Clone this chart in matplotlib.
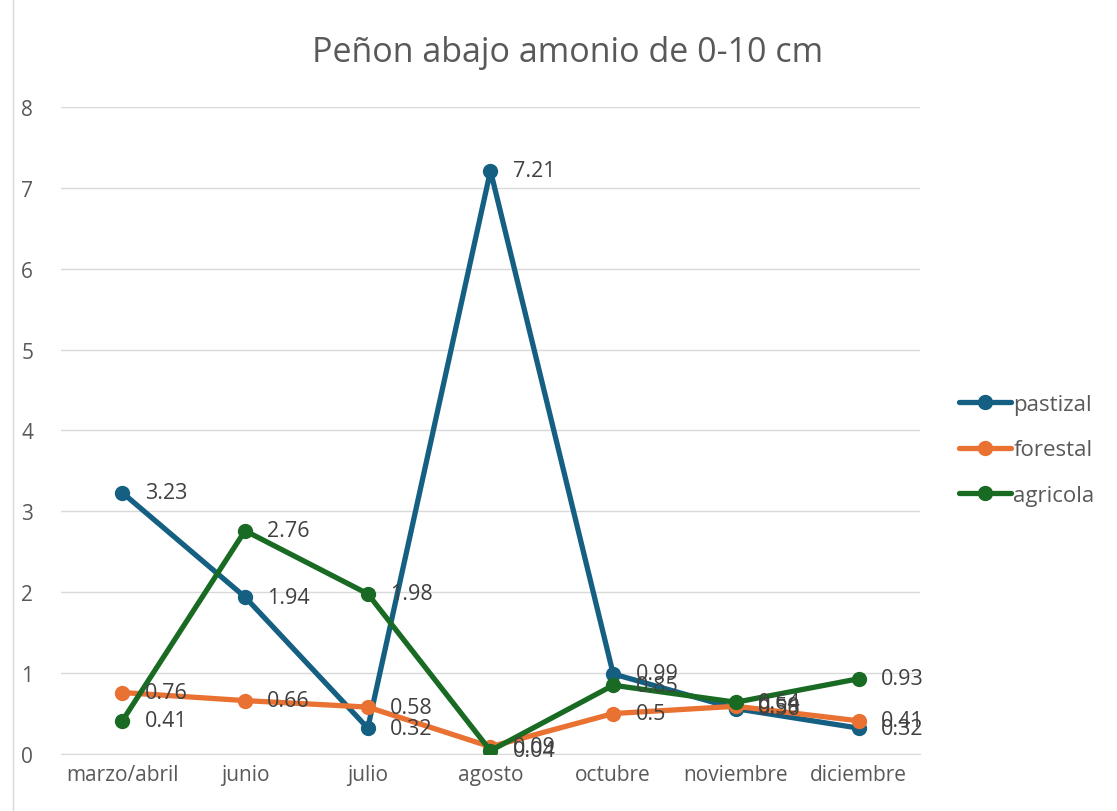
import numpy as np
import matplotlib.pyplot as plt
from matplotlib.patches import Rectangle

plt.rcParams['font.family'] = ['Open Sans', 'DejaVu Sans']

# datos
meses = ["marzo/abril", "junio", "julio", "agosto", "octubre", "noviembre", "diciembre"]
pastizal = [3.23, 1.94, 0.32, 7.21, 0.99, 0.56, 0.32]
forestal = [0.76, 0.66, 0.58, 0.09, 0.5, 0.59, 0.41]
agricola = [0.41, 2.76, 1.98, 0.04, 0.85, 0.64, 0.93]

series = [("pastizal", pastizal, "#156082"),
          ("forestal", forestal, "#E97132"),
          ("agricola", agricola, "#196B24")]

gris = "#595959"
fig = plt.figure(figsize=(11.17, 8.12), dpi=100)
ax = fig.add_axes([0.0546, 0.0702, 0.769, 0.797])

x = np.arange(len(meses))
for nombre, vals, color in series:
    ax.plot(x, vals, color=color, lw=3.8, marker="o", ms=10, label=nombre,
            solid_capstyle="round", zorder=3)
for nombre, vals, color in series:
    for xi, v in zip(x, vals):
        ax.annotate(str(v), (xi, v), xytext=(16, 0), textcoords="offset points",
                    va="center", ha="left", fontsize=15.5, color="#404040", zorder=4)

ax.set_xlim(-0.5, len(meses) - 0.5)
ax.set_ylim(0, 8)
ax.set_yticks(range(0, 9))
ax.set_xticks(x)
ax.set_xticklabels(meses)
ax.tick_params(axis="both", length=0, labelsize=15, colors=gris)
ax.tick_params(axis="y", pad=20)
ax.tick_params(axis="x", pad=7)
ax.grid(axis="y", color="#d9d9d9", lw=1)
ax.set_axisbelow(True)
for s in ["top", "right", "left"]:
    ax.spines[s].set_visible(False)
ax.spines["bottom"].set_color("#d9d9d9")

fig.text(0.508, 0.935, "Peñon abajo amonio de 0-10 cm", ha="center", va="center",
         fontsize=24.5, color=gris)

leg = ax.legend(loc="center left", bbox_to_anchor=(1.022, 0.47), frameon=False,
                fontsize=16, handlelength=2.35, handletextpad=0.1, labelspacing=1.1,
                labelcolor=gris)

fig.patches.append(Rectangle((0.012, -0.01), 1.0, 1.02, transform=fig.transFigure,
                             fill=False, edgecolor="#d9d9d9", lw=1))

fig.savefig("out.png", dpi=100)
